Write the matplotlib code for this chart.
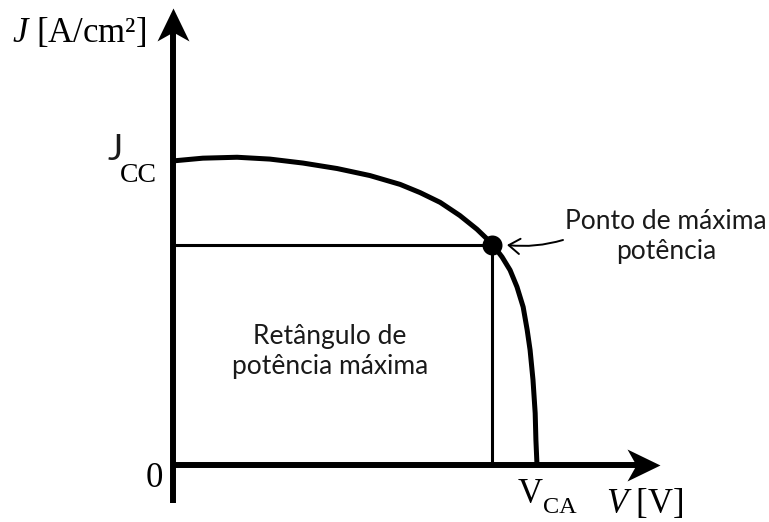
import numpy as np
import matplotlib.pyplot as plt
from matplotlib.path import Path

plt.rcParams['mathtext.fontset'] = 'custom'
plt.rcParams['mathtext.rm'] = 'Liberation Serif'
plt.rcParams['mathtext.it'] = 'Liberation Serif:italic'

# curva J-V normalizada (V/V_CA, J/J_CC)
v_curve = [0.000, 0.082, 0.176, 0.266, 0.357, 0.451, 0.541, 0.624, 0.679, 0.734, 0.788, 0.835,
           0.876, 0.904, 0.926, 0.945, 0.962, 0.973, 0.981, 0.989, 0.995, 0.997, 1.000]
j_curve = [0.997, 1.006, 1.009, 1.003, 0.990, 0.972, 0.949, 0.920, 0.893, 0.861, 0.818, 0.773,
           0.726, 0.682, 0.639, 0.584, 0.518, 0.443, 0.377, 0.279, 0.170, 0.082, 0.000]

# ponto de maxima potencia
v_mp = 0.875
j_mp = 0.720

# pixels da figura
W, H = 769, 522
X0, Y0 = 173, 465      # origem
SX, SY = 364, 305      # pixels por unidade

TXT = '#1a1a1a'
SANS = 'Lato'
SERIF = 'Liberation Serif'


def fx(x):
 return x / W


def fy(y):
 return 1 - y / H


head_r = Path([(0, 0), (-33, 16), (-24, 0), (-33, -16), (0, 0)],
              [Path.MOVETO, Path.LINETO, Path.LINETO, Path.LINETO, Path.CLOSEPOLY])
head_u = Path([(0, 0), (-16, -33), (0, -24), (16, -33), (0, 0)],
              [Path.MOVETO, Path.LINETO, Path.LINETO, Path.LINETO, Path.CLOSEPOLY])

fig = plt.figure(figsize=(W / 100, H / 100), dpi=100)
ax = fig.add_axes([0, 0, 1, 1])
ax.set_xlim(-X0 / SX, (W - X0) / SX)
ax.set_ylim(-(H - Y0) / SY, Y0 / SY)
ax.axis('off')

# eixos com setas
x_tip = (660 - X0) / SX
y_tip = (Y0 - 8) / SY
ax.plot([0, x_tip - 20 / SX], [0, 0], color='k', lw=4.3, solid_capstyle='butt')
ax.plot([0, 0], [-(503 - Y0) / SY, y_tip - 20 / SY], color='k', lw=4.3, solid_capstyle='butt')
ax.plot([x_tip], [0], marker=head_r, ms=47.5, color='k', mew=0)
ax.plot([0], [y_tip], marker=head_u, ms=47.5, color='k', mew=0)

# retangulo de potencia maxima
ax.plot([0, v_mp], [j_mp, j_mp], color='k', lw=2.2)
ax.plot([v_mp, v_mp], [0, j_mp], color='k', lw=2.2)

# curva
ax.plot(v_curve, j_curve, color='k', lw=3.6, solid_joinstyle='round', solid_capstyle='butt')
ax.plot([v_mp], [j_mp], 'o', color='k', ms=14.4, mew=0)

ax.annotate('', xy=((507 - X0) / SX, (Y0 - 245) / SY),
            xytext=((563 - X0) / SX, (Y0 - 240) / SY),
            arrowprops=dict(arrowstyle='->,head_length=0.8,head_width=0.55', color='k', lw=1.4,
                            connectionstyle='arc3,rad=-0.1', shrinkA=0, shrinkB=0))

# textos
fig.text(fx(666), fy(236.5), 'Ponto de máxima\npotência', family=SANS, size=19, color=TXT,
         ha='center', va='center', multialignment='center', linespacing=1.25)
fig.text(fx(330), fy(351.5), 'Retângulo de\npotência máxima', family=SANS, size=19, color=TXT,
         ha='center', va='center', multialignment='center', linespacing=1.25)

fig.text(fx(12), fy(42), r'$J$ [A/cm²]', family=SERIF, size=25, color='k', ha='left', va='baseline')
fig.text(fx(108), fy(160), 'J', family=SANS, size=26, color=TXT, ha='left', va='baseline')
fig.text(fx(120), fy(182), 'CC', family=SERIF, size=20, color='k', ha='left', va='baseline')
fig.text(fx(154), fy(487), '0', family=SERIF, size=25, color='k', ha='center', va='baseline')
fig.text(fx(518), fy(503), 'V', family=SERIF, size=25, color='k', ha='left', va='baseline')
fig.text(fx(543), fy(513), 'CA', family=SERIF, size=17.5, color='k', ha='left', va='baseline')
fig.text(fx(606), fy(513), r'$V$ [V]', family=SERIF, size=25, color='k', ha='left', va='baseline')

fig.savefig('out.png', dpi=100, facecolor='white')
